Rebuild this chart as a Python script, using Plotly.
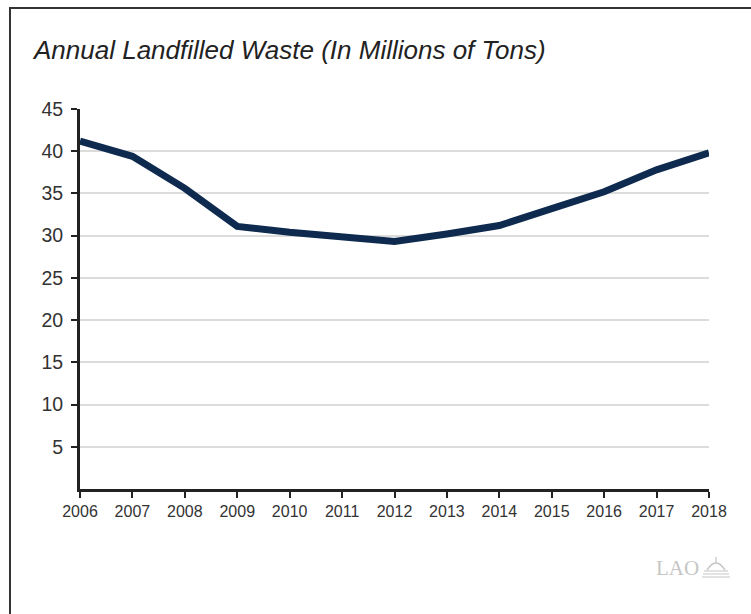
import plotly.graph_objects as go

# Annual landfilled waste, millions of tons
years = [2006, 2007, 2008, 2009, 2010, 2011, 2012, 2013, 2014, 2015, 2016, 2017, 2018]
waste = [41.2, 39.4, 35.6, 31.1, 30.4, 29.9, 29.3, 30.2, 31.2, 33.2, 35.2, 37.8, 39.8]

y_ticks = [5, 10, 15, 20, 25, 30, 35, 40, 45]

W, H = 751, 614
L, R, T, B = 80, 42, 109, 125
pw, ph = W - L - R, H - T - B


def px(x):
    return (x - L) / pw


def py(y):
    return (H - B - y) / ph


fig = go.Figure()
fig.add_trace(go.Scatter(
    x=years, y=waste, mode="lines",
    line=dict(color="#0e2a4e", width=7),
    hoverinfo="x+y", showlegend=False,
))

sans = "Liberation Sans, Arial, sans-serif"

fig.update_layout(
    width=W, height=H,
    margin=dict(l=L, r=R, t=T, b=B),
    paper_bgcolor="white", plot_bgcolor="white",
    xaxis=dict(
        range=[2006, 2018], tickmode="array", tickvals=years,
        ticktext=[str(y) for y in years],
        showgrid=False, zeroline=False,
        showline=True, linecolor="#222222", linewidth=3,
        ticks="outside", ticklen=6, tickwidth=2, tickcolor="#222222",
        tickfont=dict(family=sans, size=16, color="#333333"),
        ticklabelstandoff=0,
        fixedrange=True,
    ),
    yaxis=dict(
        range=[0, 45], tickmode="array", tickvals=y_ticks,
        ticktext=[str(v) for v in y_ticks],
        showgrid=True, gridcolor="#dcdcdc", gridwidth=1.5,
        zeroline=False,
        showline=True, linecolor="#222222", linewidth=3,
        ticks="outside", ticklen=6, tickwidth=2, tickcolor="#222222",
        tickfont=dict(family=sans, size=19.5, color="#333333"),
        ticklabelstandoff=4,
        fixedrange=True,
    ),
    title=dict(
        text="<i>Annual Landfilled Waste (In Millions of Tons)</i>",
        font=dict(family=sans, size=26, color="#222222"),
        x=34 / W, xanchor="left", y=1 - 50 / H, yanchor="middle",
    ),
)

# outer frame (runs off the right and bottom edges)
fig.add_shape(
    type="rect", xref="paper", yref="paper",
    x0=px(10), x1=px(W + 20), y0=py(H + 20), y1=py(8),
    line=dict(color="#333333", width=2), fillcolor="rgba(0,0,0,0)", layer="below",
)

# LAO mark
fig.add_annotation(
    x=px(677), y=py(568), xref="paper", yref="paper",
    text="LAO", showarrow=False, xanchor="center", yanchor="middle",
    font=dict(family="Liberation Serif, Times New Roman, serif", size=21, color="#c6c6c6"),
)
# small dome glyph beside the mark
gray = "#c6c6c6"
fig.add_shape(type="path", xref="paper", yref="paper",
              path=f"M {px(707)},{py(570)} Q {px(716)},{py(556)} {px(725)},{py(570)}",
              line=dict(color=gray, width=1.5))
for yy, x0, x1 in [(571, 704, 728), (574, 703, 729), (577, 702, 730)]:
    fig.add_shape(type="line", xref="paper", yref="paper",
                  x0=px(x0), x1=px(x1), y0=py(yy), y1=py(yy),
                  line=dict(color=gray, width=1))
fig.add_shape(type="line", xref="paper", yref="paper",
              x0=px(716), x1=px(716), y0=py(563), y1=py(557),
              line=dict(color=gray, width=1.2))

fig.write_html("out.html")
